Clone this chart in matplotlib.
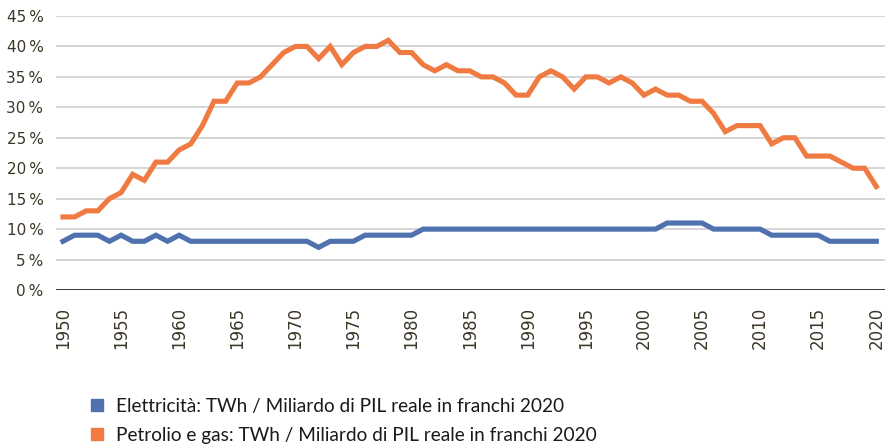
import matplotlib
matplotlib.use("Agg")
import matplotlib.pyplot as plt
from matplotlib.lines import Line2D

years = list(range(1950, 2021))
elettricita = [8, 9, 9, 9, 8, 9, 8, 8, 9, 8,
               9, 8, 8, 8, 8, 8, 8, 8, 8, 8,
               8, 8, 7, 8, 8, 8, 9, 9, 9, 9,
               9, 10, 10, 10, 10, 10, 10, 10, 10, 10,
               10, 10, 10, 10, 10, 10, 10, 10, 10, 10,
               10, 10, 11, 11, 11, 11, 10, 10, 10, 10,
               10, 9, 9, 9, 9, 9, 8, 8, 8, 8,
               8]
petrolio_gas = [12, 12, 13, 13, 15, 16, 19, 18, 21, 21,
                23, 24, 27, 31, 31, 34, 34, 35, 37, 39,
                40, 40, 38, 40, 37, 39, 40, 40, 41, 39,
                39, 37, 36, 37, 36, 36, 35, 35, 34, 32,
                32, 35, 36, 35, 33, 35, 35, 34, 35, 34,
                32, 33, 32, 32, 31, 31, 29, 26, 27, 27,
                27, 24, 25, 25, 22, 22, 22, 21, 20, 20,
                17]
xticks = list(range(1950, 2021, 5))
yticks = list(range(0, 50, 5))
labels = ["Elettricità: TWh / Miliardo di PIL reale in franchi 2020",
          "Petrolio e gas: TWh / Miliardo di PIL reale in franchi 2020"]

blue = "#4f71ad"
orange = "#ef7b43"
txt = "#3b3626"

fig = plt.figure(figsize=(8.85, 4.45), dpi=100)
ax = fig.add_axes([56/885, 155/445, 829/885, 274/445])

for y in yticks[1:]:
    ax.axhline(y, color="#cacaca", lw=1.1, zorder=1)
ax.axhline(0, color="#2b2618", lw=1.3, zorder=2)

ax.plot(years, elettricita, color=blue, lw=3.7, zorder=3, solid_joinstyle="miter")
ax.plot(years, petrolio_gas, color=orange, lw=3.7, zorder=3, solid_joinstyle="miter")

ax.set_xlim(1949.4, 2020.75)
ax.set_ylim(0, 45)
ax.set_yticks(yticks)
ax.set_yticklabels([f"{v}\u2009%" for v in yticks], fontsize=11, color=txt,
                   family="DejaVu Sans")
ax.set_xticks(xticks)
ax.set_xticklabels([str(v) for v in xticks], rotation=90, fontsize=12, color=txt,
                   family="DejaVu Sans")
ax.tick_params(axis="both", length=0)
ax.tick_params(axis="y", pad=9)
ax.tick_params(axis="x", pad=12)
for s in ax.spines.values():
    s.set_visible(False)

handles = [Line2D([], [], marker="s", color=c, ls="none", markersize=8)
           for c in (blue, orange)]
leg = fig.legend(handles, labels, loc="upper left", bbox_to_anchor=(87/885, 1 - 398/445),
                 frameon=False, handletextpad=0.55, labelspacing=0.62,
                 prop={"family": "Lato", "size": 13.7},
                 handlelength=1.0, borderaxespad=0, borderpad=0)
for t in leg.get_texts():
    t.set_color("#1a1a1a")

fig.savefig("out.png", dpi=100)
